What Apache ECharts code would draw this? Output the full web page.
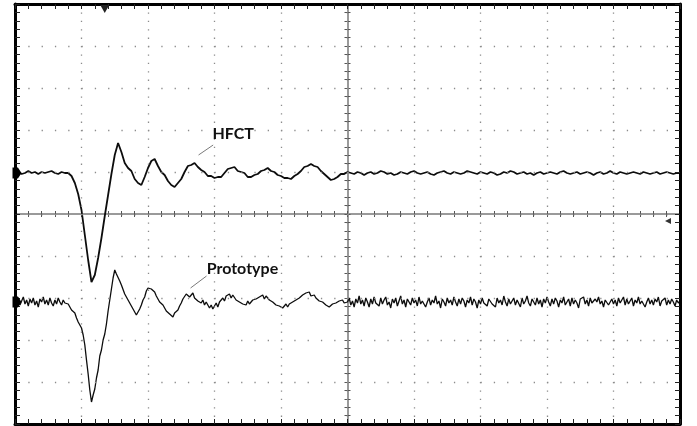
<!DOCTYPE html>
<html>
<head>
<meta charset="utf-8">
<title>HFCT vs Prototype</title>
<script src="https://cdn.jsdelivr.net/npm/echarts@6/dist/echarts.min.js"></script>
<style>
    html, body { margin: 0; padding: 0; background: #fff; }
    #main { width: 697px; height: 426px; }
</style>
</head>
<body>
<div id="main"></div>
<script>
// time base: 10 divisions, centre of screen = 0
var t0 = -5;
var hfctDt = 0.05, protoDt = 0.025;   // sample spacing in divisions

// HFCT trace (vertical units, 42 per division)
var hfct = [
    41, 42, 40, 41, 43, 41, 42, 40, 42, 41, 42, 43, 41, 40, 42, 41,
    41, 38, 31, 20, 4, -21, -46, -68, -61, -44, -24, -2, 19, 40,
    59, 71, 62, 51, 46, 43, 35, 31, 29, 37, 46, 53, 55, 48, 42, 39,
    33, 29, 27, 31, 35, 42, 48, 49, 51, 47, 44, 42, 38, 38, 36, 37,
    37, 41, 45, 46, 47, 43, 42, 41, 37, 37, 39, 40, 43, 44, 46, 43,
    42, 39, 38, 36, 36, 35, 38, 40, 43, 47, 48, 50, 48, 47, 43, 40,
    37, 34, 35, 37, 40, 40, 42,
    41, 40, 42, 41, 39, 41, 42, 40, 41, 43, 42, 40, 41, 39, 40, 42, 41, 40, 42, 43,
    41, 40, 41, 42, 40, 39, 41, 42, 43, 41, 40, 42, 41, 40, 41, 43, 42, 41, 40, 42,
    41, 40, 42, 41, 39, 40, 42, 41, 43, 42, 40, 41, 42, 40, 41, 39, 41, 42, 40, 41,
    42, 41, 40, 42, 43, 41, 40, 41, 42, 40, 41, 42, 41, 39, 41, 42, 40, 41, 43, 41,
    40, 42, 41, 40, 41, 42, 41, 40, 42, 41, 40, 41, 42, 40, 41, 42, 41, 40, 41, 41
];

// Prototype trace (denser sampling, it is noisier)
var prototype = [
    -86, -90, -84, -91, -87, -83, -90, -86, -92, -85, -89, -84, -91, -87, -93, -85,
    -88, -83, -90, -86, -91, -84, -89, -92, -86, -90, -84, -88, -91, -86, -89, -87,
    -90, -93, -96, -94, -99, -104, -108, -107, -114, -121, -131, -146, -160, -176, -188, -181,
    -175, -164, -156, -142, -136, -126, -120, -110, -97, -86, -75, -64, -56, -60, -62, -67,
    -71, -73, -80, -79, -86, -88, -92, -95, -97, -101, -98, -95, -91, -86, -83, -77,
    -74, -72, -75, -74, -78, -82, -84, -88, -87, -91, -92, -97, -95, -100, -101, -103,
    -99, -100, -96, -92, -89, -85, -84, -80, -78, -83, -81, -79, -84, -83, -87, -85,
    -89, -86, -91, -88, -90, -94, -91, -95, -92, -89, -93, -88, -87, -84, -87, -82,
    -83, -80, -84, -81, -82, -86, -84, -88, -86, -90, -88, -91, -87, -90, -89, -86,
    -88, -85, -87, -83, -84, -81, -85, -82, -83, -86, -85, -88, -87, -91, -89, -92,
    -90, -94, -92, -90, -93, -90, -91, -88, -89, -86, -87, -84, -84, -81, -83, -79,
    -81, -78, -82, -80, -81, -84, -83, -87, -85, -88, -88, -91, -89, -93, -91, -90,
    -92, -89, -91, -87, -89, -86, -89, -87, -88,
    -84, -91, -87, -93, -85, -89, -82, -90, -86, -92, -84, -88, -93, -85, -90, -83, -89, -87, -92, -84,
    -90, -86, -83, -91, -88, -94, -85, -89, -84, -92, -87, -82, -90, -86, -93, -85, -88, -91, -84, -89,
    -86, -92, -83, -90, -87, -85, -93, -88, -84, -91, -86, -89, -82, -90, -87, -94, -85, -88, -92, -84,
    -89, -86, -91, -83, -88, -92, -85, -90, -84, -87, -93, -86, -89, -83, -91, -85, -88, -94, -86, -90,
    -84, -89, -87, -92, -85, -83, -90, -88, -93, -84, -89, -86, -91, -82, -88, -92, -85, -90, -87, -84,
    -91, -86, -88, -93, -84, -90, -87, -82, -89, -92, -85, -88, -91, -84, -90, -86, -93, -85, -89, -83,
    -88, -92, -85, -90, -84, -87, -93, -86, -89, -83, -91, -88, -85, -92, -84, -90, -86, -89, -94, -85,
    -87, -83, -90, -86, -92, -84, -89, -91, -85, -88, -83, -90, -87, -93, -86, -84, -91, -88, -85, -90,
    -86, -92, -84, -89, -87, -83, -91, -85, -90, -88, -84, -92, -86, -89, -83, -90, -87, -85, -93, -88,
    -84, -90, -86, -91, -85, -88, -83, -92, -87, -89, -84, -91, -86, -90, -85, -88, -92, -86, -89, -87
];

var names = ['HFCT', 'Prototype'];
var groundLevels = [41, -88];          // channel reference markers on the left edge
var trigTime = -3.65, trigLevel = -7;  // trigger position / level markers
// label anchor and leader line end points (data units)
var labelPos = [[-1.72, 80], [-1.58, -55]];
var leaders = [[[-2.24, 59], [-2.02, 69]], [[-2.36, -74], [-2.12, -62]]];

function pairs(vals, dt) {
    var out = [];
    for (var i = 0; i < vals.length; i++) out.push([t0 + i * dt, vals[i]]);
    return out;
}

var myChart = echarts.init(document.getElementById('main'), null, { renderer: 'canvas' });

var dotColor = '#8c8c8c';
var borderLine = { show: true, onZero: false, lineStyle: { color: '#000', width: 3 } };
var centreLine = { show: true, onZero: true, onZeroAxisIndex: 0, lineStyle: { color: '#9a9a9a', width: 2 } };

function xAx(extra) {
    return Object.assign({
        type: 'value', min: -5, max: 5, interval: 1,
        axisLabel: { show: false },
        splitLine: { show: false }
    }, extra);
}
function yAx(extra) {
    return Object.assign({
        type: 'value', min: -210, max: 210, interval: 42,
        axisLabel: { show: false },
        splitLine: { show: false }
    }, extra);
}
function ticks(inside, len, col) {
    return {
        axisTick: { show: true, inside: inside, length: len, lineStyle: { color: col, width: 1 } },
        minorTick: { show: true, splitNumber: 5, length: len, lineStyle: { color: col, width: 1 } }
    };
}

var leaderStyle = { color: '#7a7a7a', width: 1, type: 'solid' };
var arrowPath = 'path://M0,0 L6,0 L10,5 L6,10 L0,10 Z';

myChart.setOption({
    animation: false,
    grid: { left: 15, top: 4, width: 665, height: 420, show: false },
    xAxis: [
        // bottom border + vertical dotted grid
        xAx(Object.assign({ position: 'bottom', axisLine: borderLine, z: 5,
            splitLine: { show: true, lineStyle: { color: dotColor, width: 1.3, type: [1.3, 7.1] } }
        }, ticks(true, 5, '#222'))),
        // top border
        xAx(Object.assign({ position: 'top', axisLine: borderLine, z: 5 }, ticks(true, 5, '#222'))),
        // centre horizontal line, ticks both sides
        xAx(Object.assign({ position: 'bottom', axisLine: centreLine }, ticks(true, 3, '#555'))),
        xAx(Object.assign({ position: 'bottom', axisLine: centreLine }, ticks(false, 3, '#555')))
    ],
    yAxis: [
        // left border + horizontal dotted grid
        yAx(Object.assign({ position: 'left', axisLine: borderLine, z: 5,
            splitLine: { show: true, lineStyle: { color: dotColor, width: 1.3, type: [1.3, 12] } }
        }, ticks(true, 5, '#222'))),
        yAx(Object.assign({ position: 'right', axisLine: borderLine, z: 5 }, ticks(true, 5, '#222'))),
        // centre vertical line, ticks both sides
        yAx(Object.assign({ position: 'left', axisLine: centreLine }, ticks(true, 3, '#555'))),
        yAx(Object.assign({ position: 'left', axisLine: centreLine }, ticks(false, 3, '#555')))
    ],
    series: [[hfct, hfctDt], [prototype, protoDt]].map(function (tr, k) {
        var marks = [{
            coord: [-5, groundLevels[k]],
            symbol: arrowPath, symbolSize: [9, 11], symbolOffset: [2, 0],
            itemStyle: { color: '#000' }, label: { show: false }
        }, {
            coord: labelPos[k], value: names[k],
            symbol: 'circle', symbolSize: 1,
            itemStyle: { color: 'rgba(0,0,0,0)' },
            label: {
                show: true, position: 'inside', formatter: names[k],
                fontFamily: 'Lato', fontWeight: 'bold', fontSize: 16, color: '#111'
            }
        }];
        if (k === 0) {
            marks.push({
                coord: [trigTime, 210], symbol: 'triangle', symbolRotate: 180,
                symbolSize: [9, 8], symbolOffset: [0, 5],
                itemStyle: { color: '#222' }, label: { show: false }
            });
            marks.push({
                coord: [5, trigLevel], symbol: 'triangle', symbolRotate: 90,
                symbolSize: [6, 6], symbolOffset: [-12, 0],
                itemStyle: { color: '#333' }, label: { show: false }
            });
        }
        return {
            name: names[k],
            type: 'line',
            xAxisIndex: 0,
            yAxisIndex: 0,
            data: pairs(tr[0], tr[1]),
            showSymbol: false,
            clip: false,
            z: 3,
            lineStyle: { color: '#0d0d0d', width: k === 0 ? 1.8 : 1.3 },
            markPoint: { silent: true, z: 10, data: marks },
            markLine: {
                silent: true, symbol: ['none', 'none'],
                lineStyle: leaderStyle, label: { show: false },
                data: [[{ coord: leaders[k][0] }, { coord: leaders[k][1] }]]
            }
        };
    })
});
</script>
</body>
</html>
